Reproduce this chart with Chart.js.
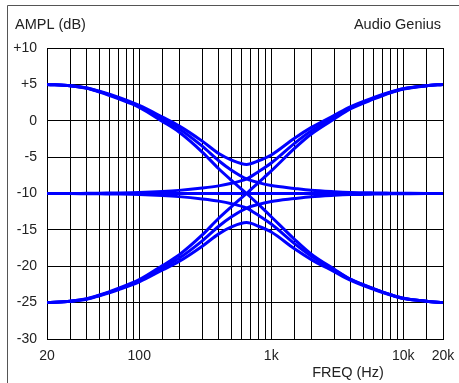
<!DOCTYPE html>
<html>
<head>
<meta charset="utf-8">
<title>Audio Genius - tone curves</title>
<script src="https://cdn.jsdelivr.net/npm/chart.js@4"></script>
<style>
  html, body { margin:0; padding:0; background:#fff; }
  #wrap { position:relative; width:459px; height:383px; }
</style>
</head>
<body>
<div id="wrap"><canvas id="chartTone"></canvas></div>
<script>
// ---------- DATA (dB) ----------
const freqs = [20, 30, 40, 50, 70, 100, 150, 200, 300, 400, 500, 650, 800, 1000, 1500, 2000, 3000, 4000, 6000, 8000, 10000, 15000, 20000];

// bass +15 / treble +15
const bassUpTrebleUp   = [5.0, 4.8, 4.5, 4.05, 3.2, 2.1, 0.5, -0.7, -2.8, -4.5, -5.4, -6.0, -5.5, -4.7, -2.4, -0.95, 0.75, 1.95, 3.2, 3.95, 4.4, 4.8, 5.0];
// bass +15 / treble 0
const bassUpTrebleFlat = [5.0, 4.8, 4.5, 4.0, 3.1, 2.0, 0.2, -1.1, -3.5, -5.5, -6.8, -8.0, -8.5, -8.9, -9.3, -9.55, -9.75, -9.85, -9.92, -9.95, -9.97, -10, -10];
// bass +15 / treble -15
const bassUpTrebleDown = [5.0, 4.8, 4.45, 3.95, 3.0, 1.85, -0.1, -1.55, -4.3, -6.6, -8.2, -10.0, -11.5, -13.2, -16.3, -18.3, -20.4, -21.8, -23.1, -23.9, -24.4, -24.8, -25.0];
// bass 0 / treble +15
const bassFlatTrebleUp = [-10, -10, -9.97, -9.95, -9.92, -9.86, -9.72, -9.57, -9.25, -8.95, -8.6, -8.0, -7.0, -5.8, -3.1, -1.4, 0.5, 1.8, 3.1, 3.9, 4.4, 4.8, 5.0];
// bass 0 / treble 0
const bassFlatTrebleFlat = [-10, -10, -10, -10, -10, -10, -10, -10, -10, -10, -10, -10, -10, -10, -10, -10, -10, -10, -10, -10, -10, -10, -10];
// bass 0 / treble -15
const bassFlatTrebleDown = [-10, -10, -10.03, -10.05, -10.08, -10.14, -10.28, -10.43, -10.75, -11.05, -11.4, -12.0, -13.0, -14.2, -16.9, -18.6, -20.5, -21.8, -23.1, -23.9, -24.4, -24.8, -25.0];
// bass -15 / treble +15
const bassDownTrebleUp = [-25, -24.8, -24.45, -23.95, -23.0, -21.85, -19.9, -18.45, -15.7, -13.4, -11.8, -10.0, -8.5, -6.9, -3.8, -1.85, 0.25, 1.65, 3.0, 3.85, 4.35, 4.8, 5.0];
// bass -15 / treble 0
const bassDownTrebleFlat = [-25, -24.8, -24.5, -24.0, -23.1, -22.0, -20.2, -18.9, -16.5, -14.5, -13.2, -12.0, -11.5, -11.1, -10.7, -10.45, -10.25, -10.15, -10.08, -10.05, -10.03, -10, -10];
// bass -15 / treble -15
const bassDownTrebleDown = [-25, -24.8, -24.55, -24.05, -23.2, -22.15, -20.5, -19.35, -17.25, -15.55, -14.6, -14.0, -14.5, -15.3, -17.6, -19.05, -20.75, -21.95, -23.2, -23.95, -24.45, -24.8, -25.0];

const xTickValues = [20, 100, 1000, 10000, 20000];
const xTickLabels = ['20', '100', '1k', '10k', '20k'];
const yMin = -30, yMax = 10, yStep = 5;

const curves = [
  bassUpTrebleUp, bassUpTrebleFlat, bassUpTrebleDown,
  bassFlatTrebleUp, bassFlatTrebleFlat, bassFlatTrebleDown,
  bassDownTrebleUp, bassDownTrebleFlat, bassDownTrebleDown
];

// ---------- STYLE ----------
const FONT = "'Liberation Sans', Arial, sans-serif";
const INK  = '#222';
const BLUE = '#0000ff';

Chart.defaults.font.family = FONT;
Chart.defaults.font.size = 14;
Chart.defaults.color = INK;

// frame + free texts (titles are not a normal axis title here)
const decor = {
  id: 'decor',
  beforeDraw(chart){
    const { ctx } = chart;
    ctx.save();
    ctx.strokeStyle = '#555';
    ctx.lineWidth = 1;
    ctx.beginPath();
    ctx.moveTo(7.5, chart.height);
    ctx.lineTo(7.5, 5.5);
    ctx.lineTo(chart.width, 5.5);
    ctx.stroke();
    ctx.restore();
  },
  afterDraw(chart){
    const { ctx, chartArea: a } = chart;
    ctx.save();
    ctx.fillStyle = INK;
    ctx.font = `14.5px ${FONT}`;
    ctx.textBaseline = 'middle';
    ctx.textAlign = 'left';
    ctx.fillText('AMPL (dB)', 15, 25);
    ctx.textAlign = 'right';
    ctx.fillText('Audio Genius', a.right - 2, 25);
    ctx.textAlign = 'center';
    ctx.fillText('FREQ (Hz)', 348, 373);
    ctx.restore();
  }
};

const ds = curves.map(vals => ({
  data: freqs.map((f, i) => ({ x: f, y: vals[i] })),
  borderColor: BLUE,
  borderWidth: 3,
  pointRadius: 0,
  fill: false,
  cubicInterpolationMode: 'monotone'
}));

new Chart(document.getElementById('chartTone'), {
  type: 'line',
  data: { datasets: ds },
  options: {
    responsive: true,
    maintainAspectRatio: false,
    animation: false,
    layout: { padding: { left: 0, top: 48, right: 16, bottom: 0 } },
    plugins: { legend: { display: false }, tooltip: { enabled: false } },
    scales: {
      x: {
        type: 'logarithmic',
        min: freqs[0],
        max: freqs[freqs.length - 1],
        // fixed plot box: 47..443 x 48..339
        afterFit: s => { s.height = 44; s.paddingLeft = 0; s.paddingRight = 16; },
        grid: { color: '#000', lineWidth: 1, drawTicks: false },
        border: { color: '#000', width: 1 },
        ticks: {
          autoSkip: false,
          maxRotation: 0,
          padding: 9,
          color: INK,
          callback: v => {
            const k = xTickValues.indexOf(Number(v));
            return k >= 0 ? xTickLabels[k] : '';
          }
        }
      },
      y: {
        min: yMin,
        max: yMax,
        afterFit: s => { s.width = 47; s.paddingTop = 0; s.paddingBottom = 0; },
        grid: { color: '#000', lineWidth: 1, drawTicks: false },
        border: { color: '#000', width: 1 },
        ticks: {
          stepSize: yStep,
          padding: 10,
          color: INK,
          callback: v => v > 0 ? '+' + v : String(v)
        }
      }
    }
  },
  plugins: [decor]
});
</script>
</body>
</html>
